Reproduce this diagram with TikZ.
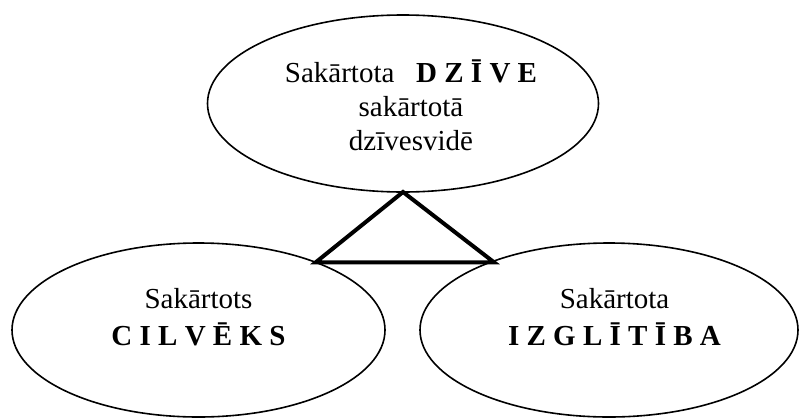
\documentclass[tikz,border=0pt]{standalone}
\usepackage{fontspec}
\setmainfont{Liberation Serif}
\usetikzlibrary{shapes}

\begin{document}
\begin{tikzpicture}[x=1pt, y=-1pt,
    oval/.style={ellipse, draw, line width=1.6pt, inner sep=0pt, outer sep=0pt},
    txt/.style={align=center, anchor=base, font=\fontsize{29}{34}\selectfont},
]
    \useasboundingbox (0,0) rectangle (799,418);

    % Ellipses
    \node[oval, minimum width=391pt, minimum height=177pt] (dzive) at (403,103.5) {};
    \node[oval, minimum width=373pt, minimum height=174pt] (cilveks) at (198.5,330) {};
    \node[oval, minimum width=378pt, minimum height=174pt] (izglitiba) at (609,330) {};

    % Texts (anchored at the baseline of the last line)
    \node[txt] (dzivetxt) at (411,150) {Sakārtota\ \ \ \textbf{D Z Ī V E}\\ sakārtotā\\ dzīvesvidē};
    \node[txt, font=\fontsize{29}{37}\selectfont] (cilvekstxt) at (198.5,345) {Sakārtots\\ \textbf{C I L V Ē K S}};
    \node[txt, font=\fontsize{29}{37}\selectfont] (izglitibatxt) at (614.5,345) {Sakārtota\\ \textbf{I Z G L Ī T Ī B A}};

    % Triangle
    \draw[line width=4pt] (dzive.south) -- (cilveks.30.5) -- (izglitiba.149.8 |- cilveks.30.5) -- cycle;
\end{tikzpicture}
\end{document}
